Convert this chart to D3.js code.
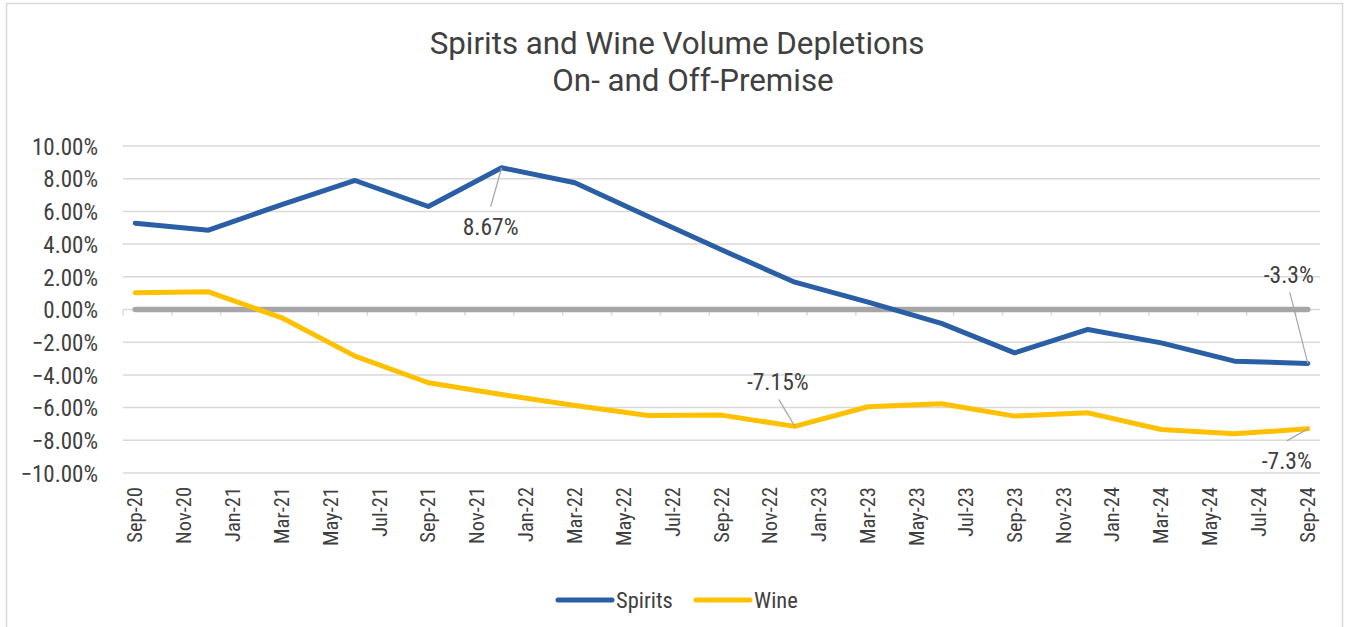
<!DOCTYPE html>
<html>
<head>
<meta charset="utf-8">
<script src="https://cdn.jsdelivr.net/npm/d3@7"></script>
<style>
  body { margin: 0; background: #fff; }
  svg { display: block; }
  text { font-family: "Roboto Condensed", "Liberation Sans Narrow", Roboto, sans-serif; fill: #404040; }
</style>
</head>
<body>
<svg id="chart" width="1350" height="627"></svg>
<script>
// ---- Data ----
const axisMonths = ["Sep-20","Oct-20","Nov-20","Dec-20","Jan-21","Feb-21","Mar-21","Apr-21","May-21","Jun-21","Jul-21","Aug-21",
  "Sep-21","Oct-21","Nov-21","Dec-21","Jan-22","Feb-22","Mar-22","Apr-22","May-22","Jun-22","Jul-22","Aug-22",
  "Sep-22","Oct-22","Nov-22","Dec-22","Jan-23","Feb-23","Mar-23","Apr-23","May-23","Jun-23","Jul-23","Aug-23",
  "Sep-23","Oct-23","Nov-23","Dec-23","Jan-24","Feb-24","Mar-24","Apr-24","May-24","Jun-24","Jul-24","Aug-24","Sep-24"];
const dataMonths = ["Sep-20","Dec-20","Mar-21","Jun-21","Sep-21","Dec-21","Mar-22","Jun-22","Sep-22","Dec-22",
  "Mar-23","Jun-23","Sep-23","Dec-23","Mar-24","Jun-24","Sep-24"];
const spirits = [5.28, 4.85, 6.42, 7.89, 6.30, 8.67, 7.75, 5.69, 3.65, 1.67, 0.45, -0.85, -2.65, -1.22, -2.04, -3.16, -3.30];
const wine    = [1.02, 1.08, -0.51, -2.85, -4.48, -5.20, -5.87, -6.48, -6.46, -7.15, -5.95, -5.77, -6.52, -6.32, -7.34, -7.60, -7.30];
const zeroLine = dataMonths.map(() => 0);
const yTicks = [10, 8, 6, 4, 2, 0, -2, -4, -6, -8, -10];
const titleLines = ["Spirits and Wine Volume Depletions", "On- and Off-Premise"];
const seriesNames = ["Spirits", "Wine"];
const annotations = [
  { series: "Spirits", month: "Dec-21", text: "8.67%", dx: -11, dy: 59 },
  { series: "Wine", month: "Dec-22", text: "-7.15%", dx: -17, dy: -45 },
  { series: "Spirits", month: "Sep-24", text: "-3.3%", dx: -19, dy: -89 },
  { series: "Wine", month: "Sep-24", text: "-7.3%", dx: -21, dy: 32 }
];

// ---- Layout ----
const svg = d3.select("#chart");
const colors = { Spirits: "#2A5EA5", Wine: "#FFC000" };
const plot = { left: 123, right: 1320, top: 146, bottom: 473 };
const narrow = '"Roboto Condensed", "Liberation Sans Narrow", Roboto, sans-serif';

// border
svg.append("rect").attr("x", 6.5).attr("y", 3.5).attr("width", 1336).attr("height", 640)
  .attr("fill", "none").attr("stroke", "#d9d9d9").attr("stroke-width", 1.5);

const x = d3.scaleBand().domain(axisMonths).range([plot.left, plot.right]).padding(0);
const xc = m => x(m) + x.bandwidth() / 2;
const y = d3.scaleLinear().domain([-10, 10]).range([plot.bottom, plot.top]);

// title
svg.append("g").selectAll("text").data(titleLines).join("text")
  .attr("x", (d, i) => i === 0 ? 677 : 693)
  .attr("y", (d, i) => 54 + i * 37)
  .attr("text-anchor", "middle")
  .style("font-family", 'Roboto, "Liberation Sans", sans-serif')
  .attr("font-size", 31.3)
  .text(d => d);

// gridlines
svg.append("g").selectAll("line").data(yTicks.filter(t => t !== 0)).join("line")
  .attr("x1", plot.left).attr("x2", plot.right)
  .attr("y1", d => y(d)).attr("y2", d => y(d))
  .attr("stroke", "#d9d9d9").attr("stroke-width", 1.5);

// y axis labels
const yAxis = d3.axisLeft(y).tickValues(yTicks).tickFormat(d => d3.format(".2f")(d) + "%").tickSize(0).tickPadding(0);
const yg = svg.append("g").attr("transform", `translate(${plot.left - 25},0)`).call(yAxis);
yg.select(".domain").remove();
yg.selectAll("text").attr("font-size", 23).attr("fill", "#404040")
  .style("font-family", narrow)
  .attr("dy", "0.36em");

// x axis: line at zero with tick marks at every other month boundary
const tickMonths = axisMonths.filter((d, i) => i % 2 === 0);
svg.append("line").attr("x1", plot.left).attr("x2", plot.right).attr("y1", y(0)).attr("y2", y(0))
  .attr("stroke", "#d9d9d9").attr("stroke-width", 1.5);
svg.append("g").selectAll("line").data(tickMonths).join("line")
  .attr("x1", d => x(d)).attr("x2", d => x(d))
  .attr("y1", y(0)).attr("y2", y(0) + 6)
  .attr("stroke", "#d9d9d9").attr("stroke-width", 1.5);

// x labels rotated, bottom of plot
svg.append("g").selectAll("text").data(tickMonths).join("text")
  .attr("transform", d => `translate(${xc(d) + 7},${plot.bottom + 14}) rotate(-90)`)
  .attr("text-anchor", "end")
  .attr("font-size", 20.5)
  .text(d => d);

// lines
const line = d3.line().x((d, i) => xc(dataMonths[i])).y(d => y(d));
svg.append("path").datum(zeroLine).attr("d", line)
  .attr("fill", "none").attr("stroke", "#A6A6A8").attr("stroke-width", 5.5).attr("stroke-linecap", "round");
const seriesData = { Spirits: spirits, Wine: wine };
seriesNames.forEach(name => {
  svg.append("path").datum(seriesData[name]).attr("d", line)
    .attr("fill", "none").attr("stroke", colors[name]).attr("stroke-width", 5)
    .attr("stroke-linejoin", "round").attr("stroke-linecap", "round");
});

// annotations
annotations.forEach(a => {
  const idx = dataMonths.indexOf(a.month);
  const v = seriesData[a.series][idx];
  const px = xc(a.month), py = y(v);
  const tx = px + a.dx, ty = py + a.dy;
  const ly = a.dy > 0 ? ty - 20 : ty + 18;
  svg.append("line").attr("x1", tx + (a.dy > 0 ? 0 : 1)).attr("y1", ly).attr("x2", px).attr("y2", py)
    .attr("stroke", "#a6a6a6").attr("stroke-width", 1.2);
  svg.append("text").attr("x", tx).attr("y", ty).attr("text-anchor", "middle")
    .attr("dy", "0.36em").attr("font-size", 23.5).text(a.text);
});

// legend
const legend = svg.append("g");
const legendItems = [{ name: "Spirits", x: 558 }, { name: "Wine", x: 696 }];
legend.selectAll("line").data(legendItems).join("line")
  .attr("x1", d => d.x).attr("x2", d => d.x + 54).attr("y1", 600).attr("y2", 600)
  .attr("stroke", d => colors[d.name]).attr("stroke-width", 5).attr("stroke-linecap", "round");
legend.selectAll("text").data(legendItems).join("text")
  .attr("x", d => d.x + 58).attr("y", 600).attr("dy", "0.36em")
  .attr("font-size", 22.5).text(d => d.name);
</script>
</body>
</html>
